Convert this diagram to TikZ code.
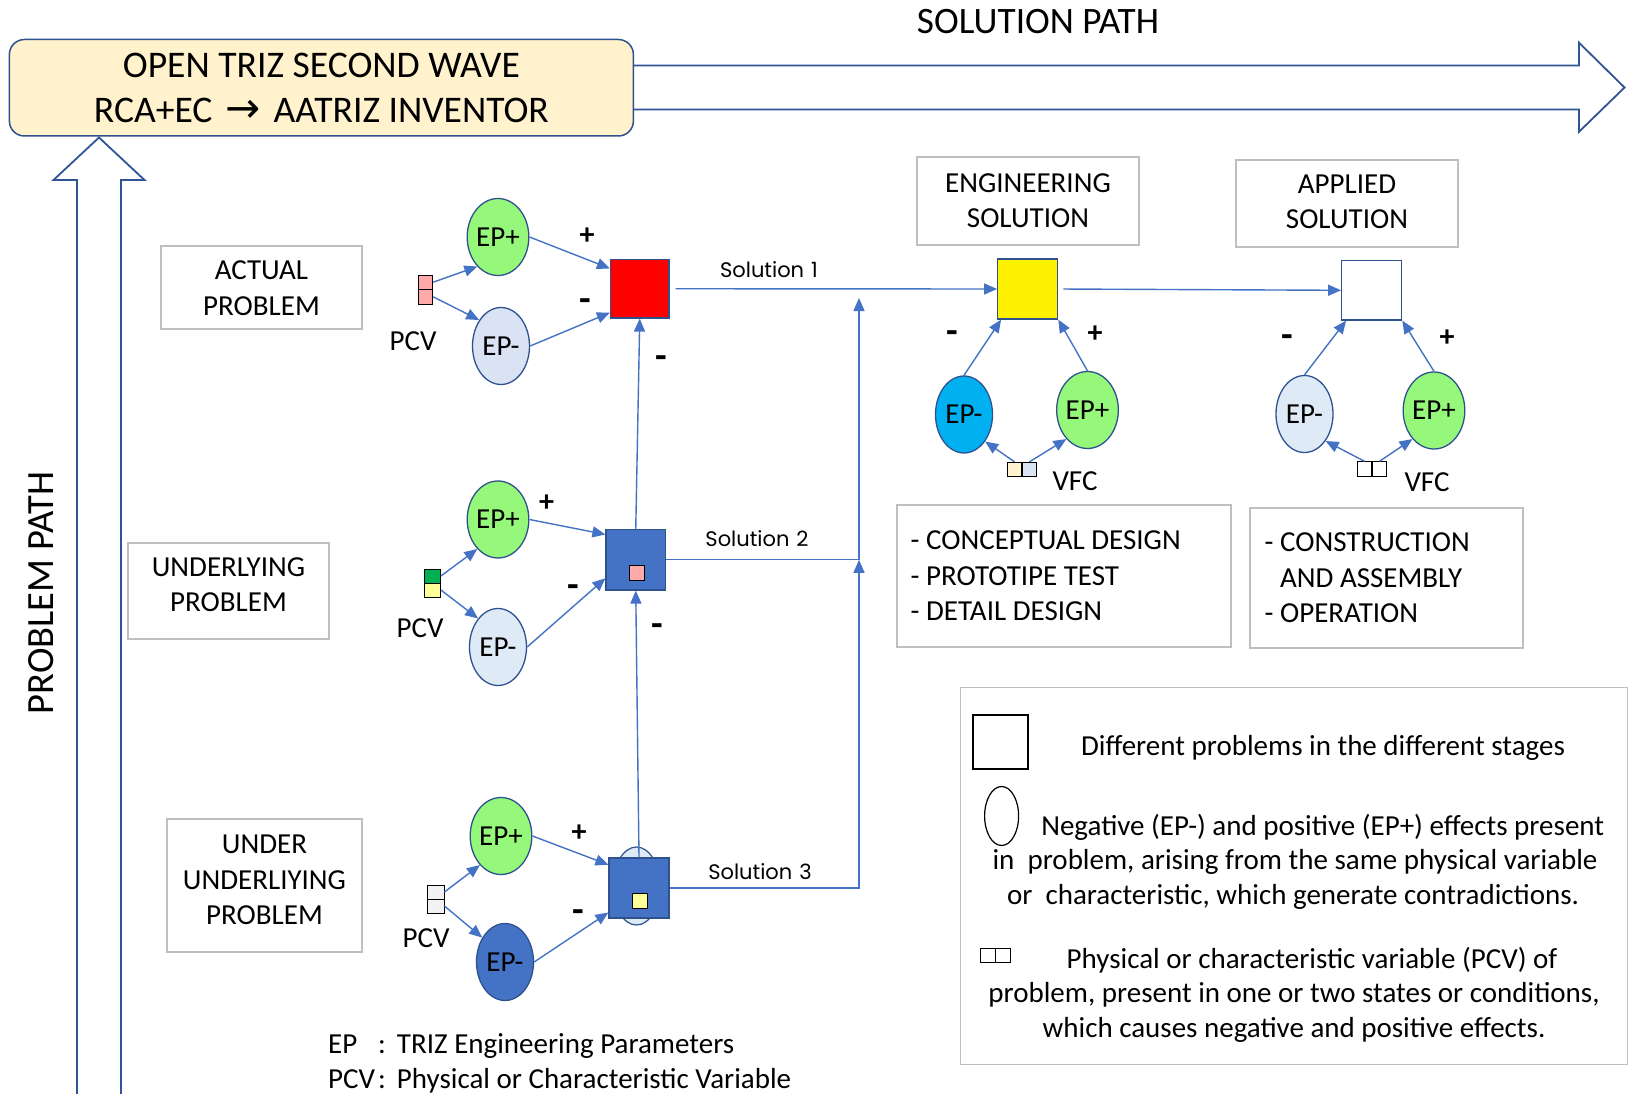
\RequirePackage{fix-cm}
\documentclass[tikz,border=0pt]{standalone}
\usepackage{fontspec}
\setmainfont{Carlito}
\newfontfamily\solfont{Poppins}
\newfontfamily\arrowfont{DejaVu Sans}
\usetikzlibrary{arrows.meta,shapes.geometric,calc}

\definecolor{lineblue}{HTML}{4472C4}
\definecolor{edgeblue}{HTML}{2F528F}
\definecolor{boxgray}{HTML}{BFBFBF}
\definecolor{titlefill}{HTML}{FFF2CC}
\definecolor{epgreen}{HTML}{96F87A}
\definecolor{eplight}{HTML}{DAE3F3}
\definecolor{eplighter}{HTML}{DEEBF7}
\definecolor{epcyan}{HTML}{00B0F0}
\definecolor{pcvpink}{HTML}{FFAAAA}
\definecolor{pcvgreen}{HTML}{00B050}
\definecolor{pcvyellow}{HTML}{FFFF99}
\definecolor{pcvgray}{HTML}{F2F2F2}
\definecolor{vfccream}{HTML}{FFF2CC}
\definecolor{arrowedge}{HTML}{2F5597}

\begin{document}
\begin{tikzpicture}[x=1pt,y=-1pt,
  txt/.style={inner sep=0pt, align=center, font=\fontsize{29}{35.5}\selectfont},
  ltxt/.style={inner sep=0pt, align=left, font=\fontsize{29}{35.5}\selectfont},
  graybox/.style={draw=boxgray, line width=1.3pt, inner sep=0pt},
  epnode/.style={ellipse, draw=edgeblue, line width=1.3pt, minimum width=57pt, minimum height=77pt, inner sep=0pt, font=\fontsize{29}{29}\selectfont},
  probsq/.style={rectangle, draw=edgeblue, line width=1.2pt, minimum size=59pt, inner sep=0pt},
  cell/.style={rectangle, draw=black, line width=0.9pt, minimum size=14.5pt, inner sep=0pt},
  conn/.style={draw=lineblue, line width=1.4pt},
  arr/.style={conn, -{Triangle[length=13pt,width=11pt]}},
  sign/.style={inner sep=0pt, font=\fontsize{30}{30}\selectfont\bfseries},
  minus/.style={inner sep=0pt, font=\fontsize{38}{38}\selectfont\bfseries},
  sol/.style={inner sep=0pt, font=\solfont\fontsize{21}{21}\selectfont},
  bigarrow/.style={draw=arrowedge, line width=1.8pt, fill=white, line join=miter},
]
\useasboundingbox (0,0) rectangle (1628,1094);
\fill[white] (0,0) rectangle (1628,1094);

% big path arrows
\draw[bigarrow] (633,65.5) -- (1579,65.5) -- (1579,42.7) -- (1624.5,87.5) -- (1579,131.8) -- (1579,109.5) -- (633,109.5);
\draw[bigarrow] (77,1100) -- (77,180) -- (53.5,180) -- (99,137.5) -- (144.5,180) -- (121,180) -- (121,1100);

% title
\node[draw=edgeblue, fill=titlefill, line width=1.5pt, rounded corners=15pt, minimum width=624pt, minimum height=96.5pt, inner sep=0pt, align=center, font=\fontsize{37.6}{45}\selectfont] (title) at (321.4,87.75) {OPEN TRIZ SECOND WAVE\\RCA+EC\hspace{13pt}{\arrowfont\fontsize{42}{42}\selectfont →}\hspace{13pt}AATRIZ INVENTOR};
\node[inner sep=0pt, font=\fontsize{37.3}{37.3}\selectfont] (solpath) at (1038,22) {SOLUTION PATH};
\node[inner sep=0pt, font=\fontsize{38.5}{38.5}\selectfont, rotate=90] (probpath) at (41.5,593) {PROBLEM PATH};

% left boxes
\node[graybox, minimum width=201pt, minimum height=83pt] (bact) at (261.5,287.5) {};
\node[txt] (tact) at (261.5,288) {ACTUAL\\PROBLEM};
\node[graybox, minimum width=201pt, minimum height=96pt] (bund) at (228.5,591) {};
\node[txt] (tund) at (228.5,584.5) {UNDERLYING\\PROBLEM};
\node[graybox, minimum width=195pt, minimum height=133pt] (buu) at (264.5,885.5) {};
\node[txt] (tuu) at (264.5,880) {UNDER\\UNDERLIYING\\PROBLEM};

% headers
\node[graybox, minimum width=222pt, minimum height=88pt] (beng) at (1028,201) {};
\node[txt] (teng) at (1028,200.5) {ENGINEERING\\SOLUTION};
\node[graybox, minimum width=222pt, minimum height=87pt] (bapp) at (1347,203.5) {};
\node[txt] (tapp) at (1347,202) {APPLIED\\SOLUTION};

% stage boxes
\node[graybox, minimum width=334pt, minimum height=142pt] (bcon) at (1064,576) {};
\node[ltxt, anchor=west] (tcon) at (910.5,576) {- CONCEPTUAL DESIGN\\- PROTOTIPE TEST\\- DETAIL DESIGN};
\node[graybox, minimum width=273pt, minimum height=140pt] (bcst) at (1386.5,578) {};
\node[ltxt, anchor=west] (tcst) at (1264.5,578) {- CONSTRUCTION\\\phantom{- }AND ASSEMBLY\\- OPERATION};

% legend
\node[graybox, minimum width=667pt, minimum height=377pt] (legend) at (1294,875.8) {};
\node[draw=black, line width=1.2pt, minimum width=55pt, minimum height=54pt, inner sep=0pt] (lsq) at (1000.5,742) {};
\node[ellipse, draw=black, line width=1.2pt, minimum width=34pt, minimum height=59pt, inner sep=0pt] (lell) at (1001.6,816) {};
\node[cell, minimum width=15pt, minimum height=14pt] (lpa) at (987.5,955) {};
\node[cell, minimum width=15pt, minimum height=14pt] (lpb) at (1002.5,955) {};
\node[txt] (lt1) at (1323,748) {Different problems in the different stages};
\node[txt] (lt2) at (1322.7,827.5) {Negative (EP-) and positive (EP+) effects present};
\node[txt] (lt3) at (1295,862) {in\ \ problem, arising from the same physical variable};
\node[txt] (lt4) at (1293,897) {or\ \ characteristic, which generate contradictions.};
\node[txt] (lt5) at (1312,960) {Physical or characteristic variable (PCV) of};
\node[txt] (lt6) at (1294,995) {problem, present in one or two states or conditions,};
\node[txt] (lt7) at (1294,1030) {which causes negative and positive effects.};

% notes
\node[ltxt, anchor=west] (nep) at (328,1046) {\makebox[50pt][l]{EP}:\hspace{11pt}TRIZ Engineering Parameters};
\node[ltxt, anchor=west] (npcv) at (328,1081) {\makebox[50pt][l]{PCV}:\hspace{11pt}Physical or Characteristic Variable};

% row 1
\node[cell, fill=pcvpink] (p1a) at (425.5,282.2) {};
\node[cell, fill=pcvpink] (p1b) at (425.5,296.8) {};
\node[txt] (pcv1) at (413,341) {PCV};
\node[epnode, fill=epgreen] (e1p) at (498,237) {EP+};
\node[epnode, fill=eplight] (e1m) at (501,346) {EP-};
\node[probsq, fill=red, minimum size=58.5pt] (s1) at (639.75,288.75) {};

% row 2
\node[cell, fill=pcvgreen, minimum width=16pt, minimum height=14pt] (p2a) at (432.5,576) {};
\node[cell, fill=pcvyellow, minimum width=16pt, minimum height=14pt] (p2b) at (432.5,590) {};
\node[txt] (pcv2) at (420,628) {PCV};
\node[epnode, fill=epgreen] (e2p) at (498,519.5) {EP+};
\node[epnode, fill=eplighter] (e2m) at (498,647) {EP-};
\node[probsq, fill=lineblue, minimum width=59.5pt, minimum height=60.5pt] (s2) at (635.75,559.75) {};
\node[cell, fill=pcvpink] (s2in) at (637,573) {};

% row 3
\node[cell, fill=pcvgray, minimum width=17pt, minimum height=14pt] (p3a) at (435.5,892) {};
\node[cell, fill=pcvgray, minimum width=17pt, minimum height=14pt] (p3b) at (435.5,906) {};
\node[txt] (pcv3) at (426,938) {PCV};
\node[epnode, fill=epgreen] (e3p) at (501,836) {EP+};
\node[epnode, fill=lineblue] (e3m) at (505,962) {EP-};
\node[ellipse, draw=edgeblue, fill=eplighter, line width=1.2pt, minimum width=47pt, minimum height=78pt, inner sep=0pt] (s3bg) at (636.5,886) {};
\node[probsq, fill=lineblue, minimum size=60pt] (s3) at (639,888) {};
\node[cell, fill=pcvyellow] (s3in) at (640,901) {};

% engineering column
\node[probsq, fill=yellow, minimum size=60pt] (yel) at (1027.7,289) {};
\node[epnode, fill=epcyan] (eem) at (964,414.5) {EP-};
\node[epnode, fill=epgreen] (eep) at (1087.5,410) {EP+};
\node[cell, fill=vfccream] (v1a) at (1014.5,469.5) {};
\node[cell, fill=eplight] (v1b) at (1029.5,469.5) {};
\node[txt] (vfc1) at (1075,481.5) {VFC};

% applied column
\node[probsq, fill=white, minimum width=60pt, minimum height=59.5pt] (wht) at (1371.7,290.3) {};
\node[epnode, fill=eplighter] (aem) at (1304.5,414) {EP-};
\node[epnode, fill=epgreen] (aep) at (1434,410.5) {EP+};
\node[cell, fill=white] (v2a) at (1364.5,469) {};
\node[cell, fill=white] (v2b) at (1379.5,469) {};
\node[txt] (vfc2) at (1427,482) {VFC};

% signs
\node[sign] (g1p) at (587,236) {+};
\node[minus] (g1m) at (585,305) {-};
\node[minus] (g1v) at (661,362) {-};
\node[sign] (g2p) at (546.5,503) {+};
\node[minus] (g2m) at (573,591) {-};
\node[minus] (g2v) at (657,630) {-};
\node[sign] (g3p) at (579,833) {+};
\node[minus] (g3m) at (578,916.5) {-};
\node[minus] (gem) at (952.5,337) {-};
\node[sign] (gep) at (1095,334) {+};
\node[minus] (gam) at (1287.5,341) {-};
\node[sign] (gap) at (1447,338) {+};

% solution labels
\node[sol] (sol1) at (769,270) {Solution\hspace{7pt}1};
\node[sol] (sol2) at (757,539) {Solution\hspace{7pt}2};
\node[sol] (sol3) at (760,872) {Solution\hspace{7pt}3};

\coordinate (j1) at (859,298);
\coordinate (j2) at (859,559.75);

% connectors
\draw[arr] (p1a.east) -- (e1p.235);
\draw[arr] (p1b.east) -- (e1m.130);
\draw[arr] (e1p.east) -- ($(s1.north west)!0.16!(s1.south west)$);
\draw[arr] (e1m.east) -- ($(s1.north west)!0.9!(s1.south west)$);

\draw[arr] (p2a.east) -- (e2p.235);
\draw[arr] (p2b.east) -- (e2m.125);
\draw[arr] (e2p.east) -- ($(s2.north west)!0.09!(s2.south west)$);
\draw[arr] (e2m.east) -- ($(s2.north west)!0.8!(s2.south west)$);

\draw[arr] (p3a.east) -- (e3p.234);
\draw[arr] (p3b.east) -- (e3m.133);
\draw[arr] (e3p.east) -- ($(s3.north west)!0.12!(s3.south west)$);
\draw[arr] (e3m.east) -- ($(s3.north west)!0.9!(s3.south west)$);

\draw[arr] (s2.north) -- (s1.south);
\draw[arr] (s3.north) -- (s2.south);

\draw[arr, shorten <=6pt] (s1.east) -- (yel.west);
\draw[arr, shorten <=5pt] (yel.east) -- (wht.west);
\draw[conn] (s2.east) -- (j2);
\draw[arr] (s3.east) -| (j2);
\draw[arr] (j2) -- (j1);

\draw[arr] (eem.north) -- ($(yel.south west)+(4,0)$);
\draw[arr] (eep.north) -- (yel.south east);
\draw[arr] (v1a.north) -- (eem.308);
\draw[arr] (v1b.north) -- (eep.234);

\draw[arr] (aem.north) -- ($(wht.south west)+(5,0)$);
\draw[arr] (aep.north) -- (wht.south east);
\draw[arr] (v2a.north) -- (aem.308);
\draw[arr] (v2b.north) -- (aep.233);
\end{tikzpicture}
\end{document}
